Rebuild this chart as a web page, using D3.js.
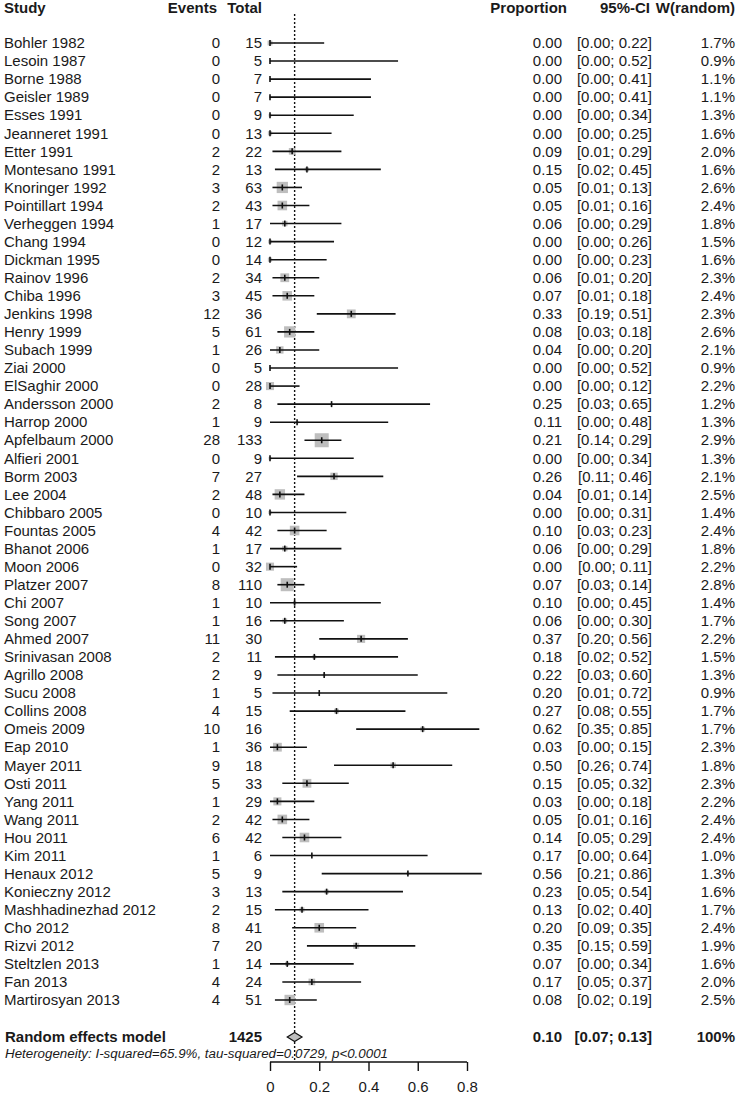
<!DOCTYPE html>
<html>
<head>
<meta charset="utf-8">
<script src="https://cdn.jsdelivr.net/npm/d3@7"></script>
<style>
  body { margin: 0; background: #fff; }
  svg { display: block; }
  text { font-family: "Liberation Sans", Arial, sans-serif; fill: #1a1a1a; }
  .hdr { font-weight: bold; font-size: 15px; }
  .cell { font-size: 15px; }
  .bold { font-weight: bold; }
  .het { font-style: italic; font-size: 12px; }
  .ci { stroke: #111; stroke-width: 1.6; }
  .sq { fill: #bebebe; }
  .est { stroke: #111; stroke-width: 1.6; }
</style>
</head>
<body>
<svg width="744" height="1098"></svg>
<script>
/* forest plot, random effects proportions */

const studies = ['Bohler 1982','Lesoin 1987','Borne 1988','Geisler 1989','Esses 1991','Jeanneret 1991','Etter 1991',
  'Montesano 1991','Knoringer 1992','Pointillart 1994','Verheggen 1994','Chang 1994','Dickman 1995','Rainov 1996',
  'Chiba 1996','Jenkins 1998','Henry 1999','Subach 1999','Ziai 2000','ElSaghir 2000','Andersson 2000','Harrop 2000',
  'Apfelbaum 2000','Alfieri 2001','Borm 2003','Lee 2004','Chibbaro 2005','Fountas 2005','Bhanot 2006','Moon 2006',
  'Platzer 2007','Chi 2007','Song 2007','Ahmed 2007','Srinivasan 2008','Agrillo 2008','Sucu 2008','Collins 2008',
  'Omeis 2009','Eap 2010','Mayer 2011','Osti 2011','Yang 2011','Wang 2011','Hou 2011','Kim 2011','Henaux 2012',
  'Konieczny 2012','Mashhadinezhad 2012','Cho 2012','Rizvi 2012','Steltzlen 2013','Fan 2013','Martirosyan 2013'];

const events = [0,0,0,0,0,0,2,2,3,2,1,0,0,2,3,12,5,1,0,0,2,1,28,0,7,2,0,4,1,0,8,1,1,11,2,2,1,4,10,1,9,5,1,2,6,1,5,3,2,8,7,1,4,4];
const totals = [15,5,7,7,9,13,22,13,63,43,17,12,14,34,45,36,61,26,5,28,8,9,133,9,27,48,10,42,17,32,110,10,16,30,11,9,5,15,16,36,18,33,29,42,42,6,9,13,15,41,20,14,24,51];
const props  = [0,0,0,0,0,0,.09,.15,.05,.05,.06,0,0,.06,.07,.33,.08,.04,0,0,.25,.11,.21,0,.26,.04,0,.10,.06,0,.07,.10,.06,.37,.18,.22,.20,.27,.62,.03,.50,.15,.03,.05,.14,.17,.56,.23,.13,.20,.35,.07,.17,.08];
const ciLow  = [0,0,0,0,0,0,.01,.02,.01,.01,0,0,0,.01,.01,.19,.03,0,0,0,.03,0,.14,0,.11,.01,0,.03,0,0,.03,0,0,.20,.02,.03,.01,.08,.35,0,.26,.05,0,.01,.05,0,.21,.05,.02,.09,.15,0,.05,.02];
const ciHigh = [.22,.52,.41,.41,.34,.25,.29,.45,.13,.16,.29,.26,.23,.20,.18,.51,.18,.20,.52,.12,.65,.48,.29,.34,.46,.14,.31,.23,.29,.11,.14,.45,.30,.56,.52,.60,.72,.55,.85,.15,.74,.32,.18,.16,.29,.64,.86,.54,.40,.35,.59,.34,.37,.19];
const weights = [1.7,0.9,1.1,1.1,1.3,1.6,2.0,1.6,2.6,2.4,1.8,1.5,1.6,2.3,2.4,2.3,2.6,2.1,0.9,2.2,1.2,1.3,2.9,1.3,2.1,2.5,1.4,2.4,1.8,2.2,2.8,1.4,1.7,2.2,1.5,1.3,0.9,1.7,1.7,2.3,1.8,2.3,2.2,2.4,2.4,1.0,1.3,1.6,1.7,2.4,1.9,1.6,2.0,2.5];

const pooled = { est: 0.10, lo: 0.07, hi: 0.13 };
const heterogeneity = 'Heterogeneity: I-squared=65.9%, tau-squared=0.0729, p<0.0001';
const axisTicks = [0, 0.2, 0.4, 0.6, 0.8];

const rows = studies.map((s, i) => ({
  name: s, ev: events[i], n: totals[i], p: props[i], lo: ciLow[i], hi: ciHigh[i], w: weights[i]
}));

const svg = d3.select('svg');
const fmt2 = d3.format('.2f');
const fmt1 = d3.format('.1f');

const x = d3.scaleLinear().domain([0, 0.8]).range([270, 467]);
const y = d3.scaleLinear().domain([0, rows.length - 1]).range([43, 1000]);
const sqSize = d3.scalePow().exponent(2).domain([0, d3.max(weights)]).range([0, 14]);

const col = { study: 4, events: 220, total: 262, prop: 562, ci: 652, w: 735 };
const ySummary = 1037;
const yAxis = 1062;

// header
const hdr = svg.append('g').attr('class', 'hdr-row');
[
  ['Study', col.study, 'start'],
  ['Events', 217, 'end'],
  ['Total', 262, 'end'],
  ['Proportion', 567, 'end'],
  ['95%-CI', 650, 'end'],
  ['W(random)', col.w, 'end']
].forEach(([t, xx, anchor]) => {
  hdr.append('text').attr('class', 'hdr')
    .attr('x', xx).attr('y', 8).attr('dy', '0.35em')
    .attr('text-anchor', anchor).text(t);
});

// reference line at pooled estimate
svg.append('line')
  .attr('x1', x(pooled.est)).attr('x2', x(pooled.est))
  .attr('y1', 14).attr('y2', yAxis)
  .attr('stroke', '#111').attr('stroke-width', 1.4)
  .attr('stroke-dasharray', '2,2');

// table rows
const g = svg.append('g').attr('class', 'rows')
  .selectAll('g').data(rows).enter()
  .append('g')
  .attr('transform', (d, i) => `translate(0,${y(i)})`);

g.append('text').attr('class', 'cell').attr('x', col.study).attr('dy', '0.35em').text(d => d.name);
g.append('text').attr('class', 'cell').attr('x', col.events).attr('dy', '0.35em').attr('text-anchor', 'end').text(d => d.ev);
g.append('text').attr('class', 'cell').attr('x', col.total).attr('dy', '0.35em').attr('text-anchor', 'end').text(d => d.n);
g.append('text').attr('class', 'cell').attr('x', col.prop).attr('dy', '0.35em').attr('text-anchor', 'end').text(d => fmt2(d.p));
g.append('text').attr('class', 'cell').attr('x', col.ci).attr('dy', '0.35em').attr('text-anchor', 'end')
  .text(d => `[${fmt2(d.lo)}; ${fmt2(d.hi)}]`);
g.append('text').attr('class', 'cell').attr('x', col.w).attr('dy', '0.35em').attr('text-anchor', 'end')
  .text(d => fmt1(d.w) + '%');

// squares, CI lines and estimate ticks
g.append('rect').attr('class', 'sq')
  .attr('x', d => x(d.p) - sqSize(d.w) / 2)
  .attr('y', d => -sqSize(d.w) / 2)
  .attr('width', d => sqSize(d.w))
  .attr('height', d => sqSize(d.w));

g.append('line').attr('class', 'ci')
  .attr('x1', d => x(d.lo)).attr('x2', d => x(d.hi))
  .attr('y1', 0).attr('y2', 0);

g.append('line').attr('class', 'est')
  .attr('x1', d => x(d.p)).attr('x2', d => x(d.p))
  .attr('y1', -3).attr('y2', 3);

// summary
const s = svg.append('g').attr('transform', `translate(0,${ySummary})`);
s.append('text').attr('class', 'cell bold').attr('x', 5).attr('dy', '0.35em').text('Random effects model');
s.append('text').attr('class', 'cell bold').attr('x', col.total).attr('dy', '0.35em').attr('text-anchor', 'end')
  .text(d3.sum(totals));
s.append('text').attr('class', 'cell bold').attr('x', col.prop).attr('dy', '0.35em').attr('text-anchor', 'end')
  .text(fmt2(pooled.est));
s.append('text').attr('class', 'cell bold').attr('x', col.ci).attr('dy', '0.35em').attr('text-anchor', 'end')
  .text(`[${fmt2(pooled.lo)}; ${fmt2(pooled.hi)}]`);
s.append('text').attr('class', 'cell bold').attr('x', col.w).attr('dy', '0.35em').attr('text-anchor', 'end')
  .text('100%');
s.append('path')
  .attr('d', `M${x(pooled.lo)},0L${x(pooled.est)},-4.5L${x(pooled.hi)},0L${x(pooled.est)},4.5Z`)
  .attr('fill', '#bebebe').attr('stroke', '#111').attr('stroke-width', 1.2);

svg.append('text').attr('class', 'het')
  .attr('x', 5).attr('y', 1058)
  .attr('textLength', 383).attr('lengthAdjust', 'spacingAndGlyphs')
  .text(heterogeneity);

// axis
const axis = svg.append('g')
  .attr('transform', `translate(0,${yAxis})`)
  .call(d3.axisBottom(x).tickValues(axisTicks).tickFormat(d => d === 0 ? '0' : d3.format('.1f')(d)).tickSize(9).tickPadding(10));
axis.select('.domain').attr('stroke', '#111').attr('stroke-width', 1.4).attr('d', `M${x(0)},0H${x(0.8)}`);
axis.selectAll('.tick line').attr('stroke', '#111').attr('stroke-width', 1.4);
axis.selectAll('.tick text')
  .style('font-family', '"Liberation Sans", Arial, sans-serif')
  .style('font-size', '15px').attr('fill', '#1a1a1a');
</script>
</body>
</html>
